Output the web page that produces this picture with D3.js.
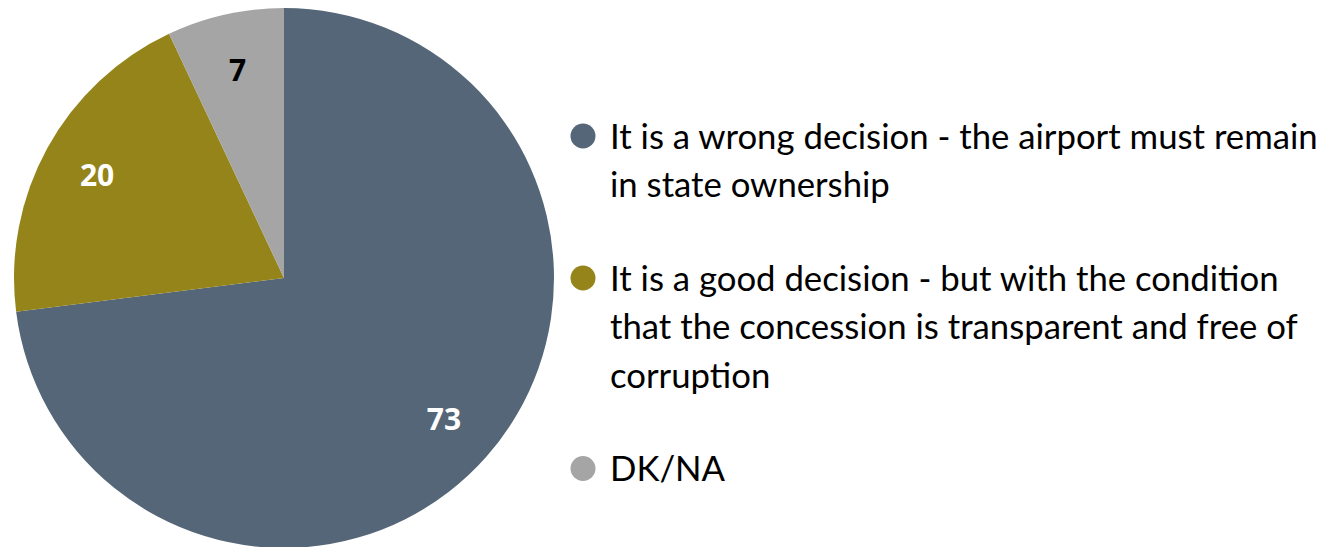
<!DOCTYPE html>
<html>
<head>
<meta charset="utf-8">
<script src="https://cdn.jsdelivr.net/npm/d3@7"></script>
<style>
  body { margin: 0; background: #fff; }
  svg { display: block; }
</style>
</head>
<body>
<div id="chart"></div>
<script>
// data
const categories = ["wrong", "good", "dkna"];
const values = [73, 20, 7];
const colors = ["#546677", "#948419", "#a5a5a5"];
const labelColors = ["#ffffff", "#ffffff", "#000000"];
const legendLines = [
  ["It is a wrong decision - the airport must remain", "in state ownership"],
  ["It is a good decision - but with the condition", "that the concession is transparent and free of", "corruption"],
  ["DK/NA"]
];

const width = 1339, height = 547;
const cx = 284, cy = 278, radius = 270;

const svg = d3.select("#chart").append("svg")
  .attr("width", width)
  .attr("height", height);

const data = categories.map((c, i) => ({ key: c, value: values[i], i: i }));

const pie = d3.pie()
  .value(d => d.value)
  .sort(null);

const arc = d3.arc().innerRadius(0).outerRadius(radius);
const labelArc = d3.arc().innerRadius(radius * 0.79).outerRadius(radius * 0.79);

const g = svg.append("g").attr("transform", `translate(${cx},${cy})`);

const slices = g.selectAll("path").data(pie(data));
slices.enter().append("path")
  .attr("d", arc)
  .attr("fill", d => colors[d.data.i]);

g.selectAll(".slice-label").data(pie(data))
  .enter().append("text")
  .classed("slice-label", true)
  .attr("transform", d => `translate(${labelArc.centroid(d)})`)
  .attr("text-anchor", "middle")
  .attr("dy", "0.36em")
  .style("font-family", "'Open Sans', Lato, sans-serif")
  .style("font-weight", "bold")
  .style("font-size", "30px")
  .attr("fill", d => labelColors[d.data.i])
  .text(d => d.data.value);

// legend
const legend = svg.append("g").attr("transform", "translate(583,0)");
const lineH = 48.5, itemGap = 45;
let y = 136;
const texts = [];
legendLines.forEach((lines, i) => {
  legend.append("circle")
    .attr("cx", 0)
    .attr("cy", y)
    .attr("r", 12.5)
    .attr("fill", colors[i]);
  lines.forEach((ln, j) => {
    const t = legend.append("text")
      .attr("x", 27)
      .attr("y", y + j * lineH)
      .attr("dy", "0.36em")
      .style("font-family", "Lato, 'Open Sans', sans-serif")
      .style("font-size", "30px")
      .attr("fill", "#000")
      .text(ln);
    texts.push(t);
  });
  y += (lines.length - 1) * lineH + lineH + itemGap;
});

// fit font so the first legend line spans the same width as the reference
const w0 = texts[0].node().getComputedTextLength();
const fs = 30 * 708 / w0;
texts.forEach(t => t.style("font-size", fs + "px"));
</script>
</body>
</html>
